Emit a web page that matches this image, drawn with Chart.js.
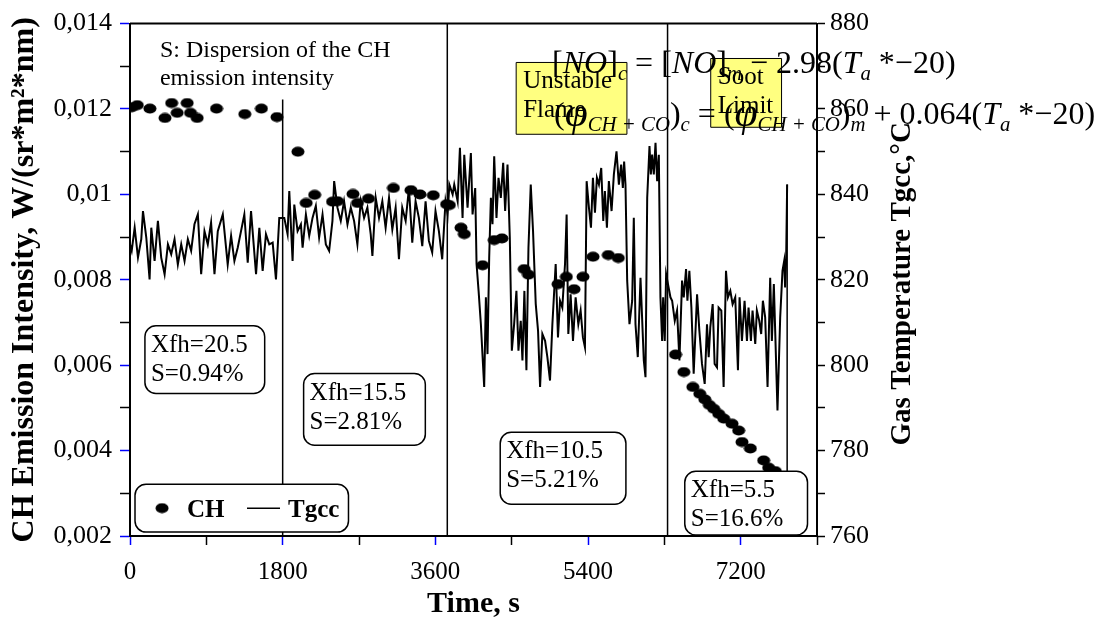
<!DOCTYPE html>
<html>
<head>
<meta charset="utf-8">
<script src="https://cdn.jsdelivr.net/npm/chart.js@4.4.1/dist/chart.umd.min.js"></script>
<style>
  html, body { margin: 0; padding: 0; background: #fff; }
  #grafico { display: block; }
</style>
</head>
<body>
<canvas id="grafico" width="1109" height="623"></canvas>
<script>
// Intensidade de emissão CH (pontos) e temperatura do gás Tgcc (linha) ao longo do ensaio.

// Eixos
const tempoTicks = [0, 1800, 3600, 5400, 7200];
const chTicks = [0.002, 0.004, 0.006, 0.008, 0.01, 0.012, 0.014];
const tgccTicks = [760, 780, 800, 820, 840, 860, 880];

// CH: [tempo s, intensidade W/(sr*m2*nm)]
const chSerie = [
  [20, 0.01204], [86, 0.01209], [235, 0.01201], [412, 0.01179], [491, 0.01214],
  [556, 0.01191], [674, 0.01214], [714, 0.01191], [792, 0.01179], [1020, 0.01201],
  [1353, 0.01188], [1549, 0.01201], [1733, 0.01181], [1980, 0.01100],
  [2077, 0.00980], [2177, 0.00999], [2388, 0.00983], [2447, 0.00984], [2629, 0.01001],
  [2682, 0.00980], [2812, 0.00990], [3106, 0.01015], [3312, 0.01010], [3418, 0.01000],
  [3576, 0.00998], [3733, 0.00977], [3765, 0.00975],
  [3902, 0.00922], [3941, 0.00907], [4157, 0.00834], [4294, 0.00893], [4385, 0.00897],
  [4647, 0.00825], [4698, 0.00812], [5047, 0.00790], [5145, 0.00807], [5235, 0.00778],
  [5341, 0.00807], [5459, 0.00854], [5639, 0.00858], [5757, 0.00851],
  [6432, 0.00625], [6530, 0.00584], [6636, 0.00549], [6718, 0.00533], [6777, 0.00520],
  [6830, 0.00507], [6882, 0.00498], [6941, 0.00486], [7000, 0.00475], [7098, 0.00463],
  [7176, 0.00447], [7215, 0.00420], [7314, 0.00405], [7471, 0.00377], [7530, 0.00360],
  [7608, 0.00352],
];

// Tgcc: [tempo s, temperatura °C]
const tgccSerie = [
  [0, 828.3], [20, 826.8], [55, 832.2], [94, 825.2], [133, 829.5], [153, 836.1], [192, 829.9],
  [231, 820.1], [251, 832.2], [290, 824.4], [329, 833.8], [368, 825.2], [408, 821.3], [447, 828.3],
  [486, 826.0], [525, 829.5], [564, 823.6], [604, 828.3], [643, 824.4], [682, 829.5], [721, 826.8],
  [760, 833.0], [800, 835.3], [839, 821.3], [878, 831.4], [917, 828.3], [956, 833.4], [996, 821.3],
  [1035, 831.4], [1094, 835.3], [1152, 823.6], [1192, 830.3], [1231, 824.4], [1270, 827.5],
  [1309, 831.4], [1348, 835.3], [1388, 824.0], [1427, 836.1], [1486, 821.3], [1525, 832.2],
  [1564, 822.1], [1603, 830.7], [1642, 828.3], [1682, 828.7], [1721, 820.1], [1760, 834.5],
  [1819, 834.5], [1858, 830.7], [1878, 840.8], [1917, 824.4], [1937, 837.6], [1976, 831.4],
  [2015, 833.0], [2035, 827.5], [2074, 835.3], [2113, 830.3], [2152, 834.5], [2191, 837.3],
  [2230, 829.9], [2270, 835.3], [2309, 828.3], [2348, 826.8], [2387, 833.8], [2407, 843.1],
  [2446, 836.9], [2485, 833.8], [2524, 838.4], [2564, 833.0], [2603, 836.9], [2642, 833.8],
  [2681, 828.3], [2720, 838.4], [2760, 834.5], [2799, 836.9], [2838, 830.7], [2858, 825.6],
  [2897, 839.2], [2936, 834.5], [2975, 838.4], [3014, 832.2], [3054, 839.2], [3093, 831.8],
  [3132, 836.9], [3171, 824.8], [3210, 836.9], [3250, 833.8], [3289, 841.5], [3328, 828.7],
  [3367, 838.4], [3406, 834.5], [3446, 827.9], [3485, 838.4], [3524, 829.1], [3563, 826.4],
  [3602, 836.1], [3642, 831.4], [3681, 824.8], [3720, 838.4],
  [3745, 835.3], [3765, 842.3], [3804, 840.0], [3823, 842.3], [3863, 838.4], [3890, 850.9],
  [3921, 834.5], [3941, 849.3], [3980, 836.9], [4019, 849.7], [4039, 835.3], [4070, 841.5],
  [4086, 823.7], [4110, 817.4], [4137, 809.6], [4176, 794.9], [4196, 815.9], [4215, 802.6],
  [4235, 825.2], [4255, 839.2], [4274, 833.0], [4294, 848.9], [4321, 834.5], [4345, 843.9],
  [4372, 839.2], [4400, 847.4], [4423, 836.1], [4451, 847.0], [4478, 829.9], [4502, 803.4],
  [4529, 809.6], [4556, 817.4], [4580, 803.4], [4607, 810.4], [4627, 801.1], [4650, 817.4],
  [4674, 798.8], [4698, 827.5], [4725, 842.3], [4752, 831.4], [4784, 814.3], [4811, 808.1],
  [4835, 794.9], [4862, 807.3], [4894, 805.7], [4921, 801.9], [4952, 796.4], [4980, 809.6],
  [5019, 823.7], [5046, 806.5], [5070, 815.1], [5097, 813.5], [5129, 823.7], [5148, 835.3],
  [5168, 807.3], [5195, 816.6], [5223, 805.7], [5254, 815.9], [5286, 809.6], [5313, 812.8],
  [5340, 806.5], [5364, 804.2], [5384, 843.1], [5411, 836.9], [5435, 832.2], [5458, 843.9],
  [5482, 835.7], [5505, 843.9], [5529, 842.3], [5556, 846.2], [5580, 833.8], [5599, 840.8],
  [5623, 832.2], [5646, 843.1], [5678, 836.1], [5705, 844.7], [5736, 850.1], [5764, 842.3],
  [5791, 847.0], [5811, 841.5], [5826, 847.7], [5842, 842.3], [5862, 819.8], [5889, 809.6],
  [5921, 815.1], [5940, 834.5], [5960, 809.6], [5987, 801.9], [6019, 820.5], [6058, 801.1],
  [6078, 797.2], [6098, 839.2], [6125, 851.3], [6141, 844.7], [6156, 849.3], [6176, 844.7],
  [6196, 852.1], [6215, 843.1], [6235, 849.3], [6254, 815.9], [6274, 805.7], [6286, 815.9],
  [6305, 805.7], [6321, 821.3],
  [6372, 815.9], [6392, 815.1], [6423, 810.4], [6450, 812.8], [6478, 801.1], [6509, 819.8],
  [6529, 815.9], [6556, 822.5], [6572, 815.1], [6595, 822.1], [6619, 813.5], [6646, 798.0],
  [6686, 816.6], [6713, 808.1], [6744, 800.3], [6776, 795.6], [6803, 809.6], [6823, 801.9],
  [6842, 808.9], [6870, 814.3], [6893, 800.3], [6921, 799.5], [6940, 813.5], [6972, 812.8],
  [6999, 794.9], [7027, 822.1], [7050, 815.9], [7078, 817.4], [7105, 814.3], [7136, 815.9],
  [7168, 798.8], [7187, 815.9], [7215, 805.7], [7246, 815.1], [7274, 805.7], [7293, 813.5],
  [7321, 805.7], [7340, 812.8], [7372, 805.0], [7391, 812.8], [7419, 810.4], [7442, 807.3],
  [7462, 815.1], [7489, 811.2], [7517, 794.9], [7548, 820.5], [7568, 805.7], [7591, 819.0],
  [7607, 808.1], [7634, 789.4], [7666, 811.2], [7693, 822.1], [7713, 824.4], [7724, 818.2],
  [7736, 824.4], [7748, 842.3],
];

// Fronteiras entre regimes de Xfh (tempo, topo no eixo CH)
const fronteiras = [
  { t: 1800, topo: 0.01222 },
  { t: 3741, topo: 0.014 },
  { t: 6338, topo: 0.014 },
  { t: 7748, topo: 0.01023 },
];

// Caixas de texto em coordenadas dos eixos (tempo, CH)
const caixas = [
  { linhas: ['Xfh=20.5', 'S=0.94%'], x0: 176, x1: 1588, y0: 0.006925, y1: 0.005337 },
  { linhas: ['Xfh=15.5', 'S=2.81%'], x0: 2047, x1: 3482, y0: 0.005805, y1: 0.004124 },
  { linhas: ['Xfh=10.5', 'S=5.21%'], x0: 4365, x1: 5847, y0: 0.004427, y1: 0.002746 },
  { linhas: ['Xfh=5.5', 'S=16.6%'], x0: 6541, x1: 7988, y0: 0.003516, y1: 0.002022 },
  { linhas: ['Unstable', 'Flame'], x0: 4553, x1: 5859, y0: 0.01309, y1: 0.011408, amarela: true },
  { linhas: ['Soot', 'Limit'], x0: 6847, x1: 7682, y0: 0.013183, y1: 0.011572, amarela: true },
];
const caixaLegenda = { x0: 59, x1: 2576, y0: 0.003213, y1: 0.002092 };

const SERIF = '"Liberation Serif", "Times New Roman", serif';
const AZUL = '#0000ff';

// Marcador elíptico dos pontos CH
const marcador = (() => {
  const c = document.createElement('canvas');
  c.width = 14; c.height = 11;
  const g = c.getContext('2d');
  g.fillStyle = '#000';
  g.beginPath();
  g.ellipse(7, 5.5, 6.5, 5, 0, 0, Math.PI * 2);
  g.fill();
  return c;
})();

function textoRico(ctx, x, y, partes, base) {
  let cx = x;
  partes.forEach((p) => {
    const tam = base * (p.e || 1);
    ctx.font = `${p.i ? 'italic ' : ''}${tam}px ${SERIF}`;
    ctx.fillText(p.t, cx, y + (p.dy || 0) * base);
    cx += ctx.measureText(p.t).width;
  });
  return cx - x;
}

const SUB = { i: true, e: 0.65, dy: 0.2 };
const eq1 = [
  { t: '[' }, { t: 'NO', i: true }, { t: ']' }, { t: 'c', ...SUB }, { t: ' = [' },
  { t: 'NO', i: true }, { t: ']' }, { t: 'm', ...SUB }, { t: ' − 2.98(' },
  { t: 'T', i: true }, { t: 'a', ...SUB }, { t: ' *−20)' },
];
const eq2 = [
  { t: '(' }, { t: 'φ', i: true, e: 1.3, dy: 0.05 }, { t: 'CH + CO', ...SUB }, { t: ')' },
  { t: 'c', ...SUB }, { t: ' = (' }, { t: 'φ', i: true, e: 1.3, dy: 0.05 },
  { t: 'CH + CO', ...SUB }, { t: ')' }, { t: 'm', ...SUB }, { t: ' + 0.064(' },
  { t: 'T', i: true }, { t: 'a', ...SUB }, { t: ' *−20)' },
];

const pluginAnotacoes = {
  id: 'anotacoes',
  afterDatasetsDraw(chart) {
    const { ctx, chartArea: a, scales: { x, y } } = chart;
    ctx.save();

    // Moldura superior
    ctx.strokeStyle = '#000';
    ctx.lineWidth = 2;
    ctx.beginPath();
    ctx.moveTo(a.left, a.top);
    ctx.lineTo(a.right, a.top);
    ctx.stroke();

    // Linhas verticais de mudança de regime
    ctx.lineWidth = 1.5;
    fronteiras.forEach((f) => {
      const px = x.getPixelForValue(f.t);
      ctx.beginPath();
      ctx.moveTo(px, y.getPixelForValue(f.topo));
      ctx.lineTo(px, a.bottom);
      ctx.stroke();
    });

    // Caixas com texto
    caixas.forEach((c) => {
      const x0 = x.getPixelForValue(c.x0), x1 = x.getPixelForValue(c.x1);
      const y0 = y.getPixelForValue(c.y0), y1 = y.getPixelForValue(c.y1);
      ctx.beginPath();
      if (c.amarela) {
        ctx.rect(x0, y0, x1 - x0, y1 - y0);
        ctx.fillStyle = '#ffff80';
        ctx.lineWidth = 1;
      } else {
        ctx.roundRect(x0, y0, x1 - x0, y1 - y0, 11);
        ctx.fillStyle = '#fff';
        ctx.lineWidth = 1.5;
      }
      ctx.fill();
      ctx.stroke();
      ctx.fillStyle = '#000';
      ctx.font = `25px ${SERIF}`;
      ctx.textAlign = 'left';
      ctx.textBaseline = 'alphabetic';
      c.linhas.forEach((l, i) => ctx.fillText(l, x0 + (c.amarela ? 7 : 6), y0 + 26 + i * 29));
    });

    // Legenda
    const lx0 = x.getPixelForValue(caixaLegenda.x0), lx1 = x.getPixelForValue(caixaLegenda.x1);
    const ly0 = y.getPixelForValue(caixaLegenda.y0), ly1 = y.getPixelForValue(caixaLegenda.y1);
    const ly = (ly0 + ly1) / 2;
    ctx.beginPath();
    ctx.roundRect(lx0, ly0, lx1 - lx0, ly1 - ly0, 11);
    ctx.fillStyle = '#fff';
    ctx.lineWidth = 1.5;
    ctx.fill();
    ctx.stroke();
    ctx.drawImage(marcador, lx0 + 20, ly - 5.5);
    ctx.fillStyle = '#000';
    ctx.font = `bold 25px ${SERIF}`;
    ctx.fillText(chart.data.datasets[0].label, lx0 + 52, ly + 9);
    ctx.lineWidth = 1.5;
    ctx.beginPath();
    ctx.moveTo(lx0 + 112, ly);
    ctx.lineTo(lx0 + 145, ly);
    ctx.stroke();
    ctx.fillText(chart.data.datasets[1].label, lx0 + 153, ly + 9);

    ctx.restore();
  },
  afterDraw(chart) {
    const { ctx, chartArea: a, scales: { x, y } } = chart;
    ctx.save();
    ctx.fillStyle = '#000';
    ctx.textBaseline = 'alphabetic';

    // Texto explicativo de S
    ctx.font = `24px ${SERIF}`;
    ctx.textAlign = 'left';
    const sx = x.getPixelForValue(353);
    ctx.fillText('S: Dispersion of the CH', sx, y.getPixelForValue(0.013229));
    ctx.fillText('emission intensity', sx, y.getPixelForValue(0.012552));

    // Títulos dos eixos
    ctx.textAlign = 'center';
    ctx.font = `bold 30px ${SERIF}`;
    ctx.fillText('Time, s', (a.left + a.right) / 2, 612);

    ctx.save();
    ctx.translate(25, (a.top + a.bottom) / 2);
    ctx.rotate(-Math.PI / 2);
    ctx.textBaseline = 'middle';
    ctx.font = `bold 32px ${SERIF}`;
    ctx.fillText('CH Emission Intensity, W/(sr*m²*nm)', 0, 0);
    ctx.restore();

    ctx.save();
    ctx.translate(a.right + 86, (a.top + a.bottom) / 2 + 4);
    ctx.rotate(-Math.PI / 2);
    ctx.textBaseline = 'middle';
    ctx.font = `bold 29px ${SERIF}`;
    ctx.fillText('Gas Temperature Tgcc,°C', 0, 0);
    ctx.restore();

    // Equações de correção
    ctx.textAlign = 'left';
    textoRico(ctx, x.getPixelForValue(4977), y.getPixelForValue(0.012833), eq1, 32);
    textoRico(ctx, x.getPixelForValue(5000), y.getPixelForValue(0.011642), eq2, 32);

    ctx.restore();
  },
};

const corTick = (ticks) => (c) => (ticks.includes(Math.round(c.tick.value * 1e6) / 1e6) ? AZUL : '#000');

new Chart(document.getElementById('grafico'), {
  type: 'scatter',
  data: {
    datasets: [
      {
        label: 'CH',
        data: chSerie.map(([t, v]) => ({ x: t, y: v })),
        yAxisID: 'y',
        pointStyle: marcador,
        pointRadius: 6,
        order: 0,
      },
      {
        type: 'line',
        label: 'Tgcc',
        data: tgccSerie.map(([t, v]) => ({ x: t, y: v })),
        yAxisID: 'y1',
        borderColor: '#000',
        borderWidth: 2,
        pointRadius: 0,
        tension: 0,
        order: 1,
      },
    ],
  },
  options: {
    responsive: false,
    animation: false,
    layout: { padding: { top: 22, left: 0, right: 0, bottom: 0 } },
    plugins: { legend: { display: false }, tooltip: { enabled: false } },
    scales: {
      x: {
        type: 'linear',
        min: 0,
        max: 8100,
        afterFit: (s) => { s.height = 87; },
        ticks: {
          stepSize: 900,
          autoSkip: false,
          maxRotation: 0,
          color: '#000',
          padding: 12,
          font: { family: SERIF, size: 25 },
          callback: (v) => (tempoTicks.includes(v) ? String(v) : ''),
        },
        grid: { drawOnChartArea: false, tickLength: 9, tickWidth: 1.5, tickColor: corTick(tempoTicks) },
        border: { color: '#000', width: 2 },
      },
      y: {
        position: 'left',
        min: 0.002,
        max: 0.014,
        afterFit: (s) => { s.width = 130; },
        ticks: {
          stepSize: 0.001,
          autoSkip: false,
          color: '#000',
          padding: 8,
          font: { family: SERIF, size: 26 },
          callback: (v) => {
            const r = Math.round(v * 1e6) / 1e6;
            return chTicks.includes(r) ? String(r).replace('.', ',') : '';
          },
        },
        grid: { drawOnChartArea: false, tickLength: 10, tickWidth: 1.5, tickColor: corTick(chTicks) },
        border: { color: '#000', width: 2 },
      },
      y1: {
        position: 'right',
        min: 760,
        max: 880,
        afterFit: (s) => { s.width = 292; },
        ticks: {
          stepSize: 10,
          autoSkip: false,
          color: '#000',
          padding: 5,
          font: { family: SERIF, size: 26 },
          callback: (v) => (tgccTicks.includes(v) ? String(v) : ''),
        },
        grid: { drawOnChartArea: false, tickLength: 8, tickWidth: 1.5, tickColor: '#000' },
        border: { color: '#000', width: 2 },
      },
    },
  },
  plugins: [pluginAnotacoes],
});
</script>
</body>
</html>
